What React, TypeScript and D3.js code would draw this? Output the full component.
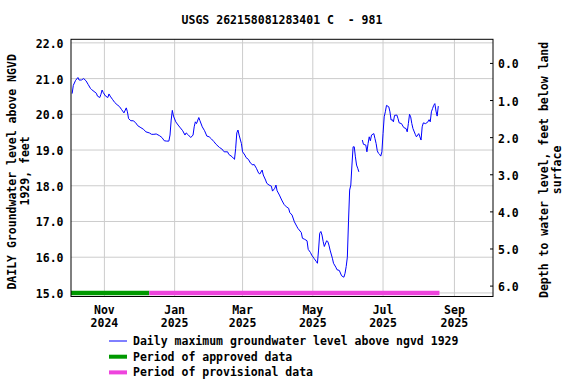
import React from 'react';
import * as d3 from 'd3';

const TITLE = 'USGS 262158081283401 C  - 981';
const LEFT_LABEL = ['DAILY Groundwater level above NGVD', '1929, feet'];
const RIGHT_LABEL = ['Depth to water level, feet below land', 'surface'];

const obsDates = [
  '2024-10-04', '2024-10-05', '2024-10-07', '2024-10-09', '2024-10-10', '2024-10-12', '2024-10-14', '2024-10-16',
  '2024-10-18', '2024-10-20', '2024-10-21', '2024-10-23', '2024-10-25', '2024-10-26', '2024-10-28', '2024-10-29',
  '2024-10-30', '2024-10-31', '2024-11-02', '2024-11-04', '2024-11-05', '2024-11-06', '2024-11-08', '2024-11-10',
  '2024-11-12', '2024-11-14', '2024-11-16', '2024-11-18', '2024-11-20', '2024-11-21', '2024-11-22', '2024-11-24',
  '2024-11-26', '2024-11-28', '2024-11-30', '2024-12-02', '2024-12-05', '2024-12-07', '2024-12-10', '2024-12-12',
  '2024-12-14', '2024-12-16', '2024-12-19', '2024-12-21', '2024-12-23', '2024-12-25', '2024-12-27', '2024-12-28',
  '2024-12-29', '2024-12-30', '2024-12-31', '2025-01-02', '2025-01-04', '2025-01-06', '2025-01-08', '2025-01-10',
  '2025-01-11', '2025-01-13', '2025-01-15', '2025-01-17', '2025-01-18', '2025-01-19', '2025-01-20', '2025-01-22',
  '2025-01-23', '2025-01-25', '2025-01-27', '2025-01-29', '2025-01-31', '2025-02-02', '2025-02-04', '2025-02-06',
  '2025-02-09', '2025-02-11', '2025-02-13', '2025-02-16', '2025-02-17', '2025-02-20', '2025-02-21', '2025-02-22',
  '2025-02-23', '2025-02-24', '2025-02-25', '2025-02-26', '2025-02-28', '2025-03-01', '2025-03-03', '2025-03-04',
  '2025-03-06', '2025-03-08', '2025-03-10', '2025-03-11', '2025-03-13', '2025-03-15', '2025-03-16', '2025-03-18',
  '2025-03-19', '2025-03-21', '2025-03-22', '2025-03-24', '2025-03-26', '2025-03-27', '2025-03-29', '2025-03-30',
  '2025-03-31', '2025-04-02', '2025-04-04', '2025-04-06', '2025-04-08', '2025-04-10', '2025-04-11', '2025-04-13',
  '2025-04-15', '2025-04-17', '2025-04-18', '2025-04-21', '2025-04-22', '2025-04-24', '2025-04-26', '2025-04-27',
  '2025-04-29', '2025-04-30', '2025-05-02', '2025-05-04', '2025-05-05', '2025-05-06', '2025-05-07', '2025-05-08',
  '2025-05-09', '2025-05-10', '2025-05-11', '2025-05-13', '2025-05-14', '2025-05-15', '2025-05-16', '2025-05-18',
  '2025-05-19', '2025-05-21', '2025-05-22', '2025-05-24', '2025-05-26', '2025-05-28', '2025-05-29', '2025-05-30',
  '2025-05-31', '2025-06-01', '2025-06-02', '2025-06-03', '2025-06-04', '2025-06-05', '2025-06-06', '2025-06-07',
  '2025-06-08', '2025-06-09', '2025-06-10', '2025-06-11', '2025-06-13', '2025-06-14', '2025-06-16', '2025-06-17',
  '2025-06-18', '2025-06-19', '2025-06-20', '2025-06-21', '2025-06-23', '2025-06-24', '2025-06-25', '2025-06-26',
  '2025-06-27', '2025-06-28', '2025-06-29', '2025-06-30', '2025-07-01', '2025-07-02', '2025-07-03', '2025-07-04',
  '2025-07-06', '2025-07-07', '2025-07-08', '2025-07-09', '2025-07-10', '2025-07-11', '2025-07-13', '2025-07-14',
  '2025-07-15', '2025-07-17', '2025-07-19', '2025-07-21', '2025-07-22', '2025-07-23', '2025-07-24', '2025-07-25',
  '2025-07-26', '2025-07-27', '2025-07-29', '2025-07-30', '2025-08-01', '2025-08-02', '2025-08-03', '2025-08-04',
  '2025-08-05', '2025-08-07', '2025-08-09', '2025-08-10', '2025-08-11', '2025-08-12', '2025-08-13', '2025-08-14',
  '2025-08-15', '2025-08-16', '2025-08-17', '2025-08-18',
];

// null = missing days (gap in the line)
const obsLevels: (number | null)[] = [
  20.58, 20.81, 20.95, 21.03, 20.96, 20.96, 21.0, 20.94,
  20.83, 20.72, 20.69, 20.64, 20.59, 20.51, 20.47, 20.56,
  20.68, 20.61, 20.51, 20.47, 20.57, 20.51, 20.42, 20.33,
  20.27, 20.22, 20.13, 20.04, 20.18, 20.07, 19.88, 19.82,
  19.82, 19.77, 19.68, 19.64, 19.58, 19.51, 19.48, 19.44,
  19.44, 19.45, 19.4, 19.35, 19.26, 19.25, 19.25, 19.42,
  19.84, 20.11, 19.95, 19.79, 19.7, 19.62, 19.54, 19.42,
  19.48, 19.42, 19.35, 19.42, 19.65, 19.79, 19.74, 19.91,
  19.82, 19.65, 19.54, 19.39, 19.37, 19.31, 19.24, 19.16,
  19.07, 19.03, 18.95, 18.95, 18.88, 18.81, 18.77, 18.74,
  19.04, 19.48, 19.56, 19.42, 19.18, 18.95, 18.86, 18.79,
  18.74, 18.63, 18.58, 18.6, 18.49, 18.35, 18.33, 18.44,
  18.3, 18.16, 18.07, 18.02, 17.99, 17.85, 17.93, 18.02,
  17.86, 17.74, 17.6, 17.48, 17.41, 17.37, 17.25, 17.18,
  16.99, 16.87, 16.81, 16.69, 16.53, 16.5, 16.46, 16.22,
  16.13, 16.06, 15.97, 15.88, 15.83, 16.2, 16.67, 16.72,
  16.62, 16.44, 16.3, 16.46, 16.44, 16.34, 16.2, 15.97,
  15.83, 15.72, 15.65, 15.63, 15.48, 15.44, 15.55, 15.74,
  16.0, 16.99, 17.88, 18.02, 18.58, 19.09, 19.09, 18.81,
  18.58, 18.49, 18.39, null, 19.28, 19.16, 19.14, 18.95,
  19.18, 19.37, 19.26, 19.42, 19.46, 19.32, 19.18, 18.98,
  18.91, 18.88, 18.83, 18.95, 19.46, 19.93, 20.07, 20.25,
  20.21, 20.07, 19.84, 19.85, 19.79, 19.97, 19.98, 19.88,
  19.76, 19.74, 19.63, 19.6, 19.51, 19.74, 20.0, 19.93,
  19.74, 19.6, 19.44, 19.37, 19.46, 19.37, 19.28, 19.65,
  19.76, 19.74, 19.79, 19.85, 19.79, 20.07, 20.16, 20.25,
  20.3, 20.09, 19.95, 20.23,
];

const approvedPeriod = ['2024-10-03', '2024-12-10'];
const provisionalPeriod = ['2024-12-10', '2025-08-19'];

const leftTicks = [15, 16, 17, 18, 19, 20, 21, 22];
const rightTicks = [0, 1, 2, 3, 4, 5, 6];
const monthTicks = ['2024-11-01', '2025-01-01', '2025-03-01', '2025-05-01', '2025-07-01', '2025-09-01'];
const monthLabels = ['Nov', 'Jan', 'Mar', 'May', 'Jul', 'Sep'];
const yearLabels = ['2024', '2025', '2025', '2025', '2025', '2025'];

const legendItems = [
  { label: 'Daily maximum groundwater level above ngvd 1929', color: '#0000ff', width: 1 },
  { label: 'Period of approved data', color: '#009900', width: 4 },
  { label: 'Period of provisional data', color: '#ee44dd', width: 4 },
];

const parse = d3.utcParse('%Y-%m-%d');
const FONT = '"DejaVu Sans Mono", monospace';

export default function App()
{
  const W = 576;
  const H = 384;
  const plot = { left: 71, right: 493, top: 39.3, bottom: 296.5 };

  const x = d3.scaleUtc()
    .domain([new Date(Date.UTC(2024, 9, 3)), new Date(Date.UTC(2025, 9, 4, 12))])
    .range([plot.left, plot.right]);
  const y = d3.scaleLinear().domain([14.9, 22.1]).range([plot.bottom, plot.top]);
  const yDepth = d3.scaleLinear().domain([-0.65, 6.28]).range([plot.top, plot.bottom]);

  const points = obsDates.map((d, i) => ({ date: parse(d) as Date, v: obsLevels[i] }));
  const line = d3.line<{ date: Date; v: number | null }>()
    .defined((d) => d.v !== null)
    .x((d) => x(d.date))
    .y((d) => y(d.v as number));

  const textStyle = { fontFamily: FONT, fontWeight: 'bold' as const, fontSize: 11.5, fill: '#000' };
  const midY = (plot.top + plot.bottom) / 2;

  return (
    <svg width={ W } height={ H } style={ { position: 'absolute', left: 0, top: 0, background: '#fff' } }>
      <rect x={ 0 } y={ 0 } width={ W } height={ H } fill="#fff" />
      <text x={ (plot.left + plot.right) / 2 } y={ 20 } textAnchor="middle" dominantBaseline="central"
        style={ { ...textStyle, whiteSpace: 'pre' } }>{ TITLE }</text>

      {/* grid */}
      { leftTicks.map((t) => (
        <line key={ 'gy' + t } x1={ plot.left } x2={ plot.right } y1={ y(t) } y2={ y(t) } stroke="#cccccc" strokeWidth={ 1 } />
      )) }
      { monthTicks.map((m) => (
        <line key={ 'gx' + m } x1={ x(parse(m) as Date) } x2={ x(parse(m) as Date) } y1={ plot.top } y2={ plot.bottom }
          stroke="#cccccc" strokeWidth={ 1 } />
      )) }

      {/* period bars */}
      <line x1={ x(parse(approvedPeriod[0]) as Date) } x2={ x(parse(approvedPeriod[1]) as Date) } y1={ y(15) } y2={ y(15) }
        stroke="#009900" strokeWidth={ 4.5 } />
      <line x1={ x(parse(provisionalPeriod[0]) as Date) } x2={ x(parse(provisionalPeriod[1]) as Date) } y1={ y(15) } y2={ y(15) }
        stroke="#ee44dd" strokeWidth={ 4.5 } />

      <path d={ line(points) || '' } fill="none" stroke="#0000ff" strokeWidth={ 1 } />

      <rect x={ plot.left } y={ plot.top } width={ plot.right - plot.left } height={ plot.bottom - plot.top }
        fill="none" stroke="#000" strokeWidth={ 1 } />

      {/* left axis */}
      { leftTicks.map((t) => (
        <text key={ 'ly' + t } x={ 63.5 } y={ y(t) + 1 } textAnchor="end" dominantBaseline="central" style={ textStyle }>
          { t.toFixed(1) }
        </text>
      )) }

      {/* right axis */}
      { rightTicks.map((t) => (
        <g key={ 'ry' + t }>
          <line x1={ plot.right - 3 } x2={ plot.right } y1={ yDepth(t) } y2={ yDepth(t) } stroke="#000" />
          <text x={ 498 } y={ yDepth(t) + 1 } dominantBaseline="central" style={ textStyle }>{ t.toFixed(1) }</text>
        </g>
      )) }

      {/* x axis labels */}
      { monthTicks.map((m, i) => (
        <g key={ 'lx' + m }>
          <text x={ x(parse(m) as Date) } y={ 310 } textAnchor="middle" dominantBaseline="central" style={ textStyle }>
            { monthLabels[i] }
          </text>
          <text x={ x(parse(m) as Date) } y={ 323 } textAnchor="middle" dominantBaseline="central" style={ textStyle }>
            { yearLabels[i] }
          </text>
        </g>
      )) }

      {/* axis titles */}
      <text transform={ `translate(12,${ midY + 4 }) rotate(-90)` } textAnchor="middle" dominantBaseline="central" style={ textStyle }>
        { LEFT_LABEL[0] }
      </text>
      <text transform={ `translate(25,${ midY + 3 }) rotate(-90)` } textAnchor="middle" dominantBaseline="central" style={ textStyle }>
        { LEFT_LABEL[1] }
      </text>
      <text transform={ `translate(544,${ midY + 2 }) rotate(-90)` } textAnchor="middle" dominantBaseline="central" style={ textStyle }>
        { RIGHT_LABEL[0] }
      </text>
      <text transform={ `translate(557,${ midY + 2 }) rotate(-90)` } textAnchor="middle" dominantBaseline="central" style={ textStyle }>
        { RIGHT_LABEL[1] }
      </text>

      {/* legend */}
      { legendItems.map((item, i) => (
        <g key={ item.label } transform={ `translate(0,${ 341 + i * 15.7 })` }>
          <line x1={ 109 } x2={ 127 } y1={ 0 } y2={ 0 } stroke={ item.color } strokeWidth={ item.width } />
          <text x={ 133 } y={ 0 } dominantBaseline="central" style={ textStyle }>{ item.label }</text>
        </g>
      )) }
    </svg>
  );
}
